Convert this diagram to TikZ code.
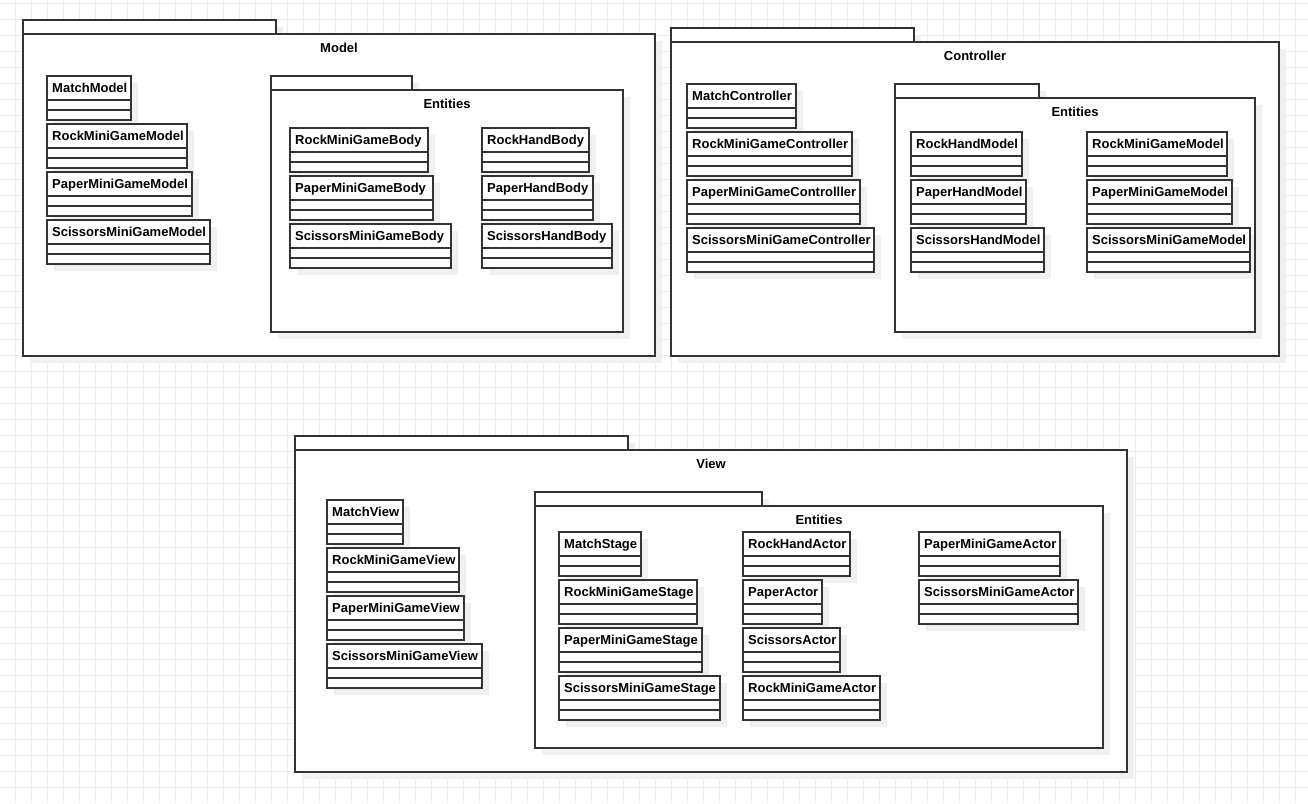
\documentclass[tikz,border=0pt]{standalone}
\usepackage{fontspec}
\setmainfont{Liberation Sans}
\usepackage{xcolor}
\usepackage{tikz}
\usetikzlibrary{positioning}
\definecolor{myline}{RGB}{51,51,51}
\definecolor{myshadow}{RGB}{240,240,240}
\definecolor{mygrid}{RGB}{236,236,236}
\pgfdeclarelayer{pkgback}
\pgfdeclarelayer{clsback}
\pgfsetlayers{pkgback,clsback,main}
\tikzset{
  gridline/.style={draw=mygrid, line width=0.8pt},
  boxline/.style={draw=myline, line width=1.3pt},
  boxshadow/.style={fill=myshadow},
  clsname/.style={anchor=north west, minimum height=24pt,
    inner xsep=5pt, inner ysep=0pt, text height=9.3pt, text depth=0pt,
    font=\bfseries\fontsize{13}{15}\selectfont},
  pkgtitle/.style={inner sep=0pt, text height=9.3pt, text depth=0pt,
    font=\bfseries\fontsize{13}{15}\selectfont}
}

% class box: name, x, y, width, label
\newcommand{\umlclass}[5]{%
  \begin{pgfonlayer}{clsback}
    \fill[boxshadow] (#2+7,#3+7) rectangle ++(#4,44);
  \end{pgfonlayer}
  \fill[white] (#2,#3) rectangle ++(#4,44);
  \node[clsname] (#1) at (#2,#3) {#5};
  \draw[boxline] (#2,#3) rectangle ++(#4,44);
  \draw[boxline] (#2,#3+24) -- ++(#4,0);
  \draw[boxline] (#2,#3+34) -- ++(#4,0);
}

% package: name, x1, tab top, tab right, x2, y2, title
\newcommand{\umlpackage}[7]{%
  \begin{pgfonlayer}{pkgback}
    \fill[boxshadow] (#2+7,#3+7) rectangle (#4+7,#3+21);
    \fill[boxshadow] (#2+7,#3+21) rectangle (#5+7,#6+7);
    \fill[white] (#2,#3) rectangle (#4,#3+14);
    \fill[white] (#2,#3+14) rectangle (#5,#6);
  \end{pgfonlayer}
  \draw[boxline] (#2,#3+14) -- (#2,#3) -- (#4,#3) -- (#4,#3+14);
  \draw[boxline] (#2,#3+14) rectangle (#5,#6);
  \node[pkgtitle] (#1) at ({(#2+#5)/2},#3+28) {#7};
}

\begin{document}
\begin{tikzpicture}[x=1pt, y=-1pt]
  \useasboundingbox (0,0) rectangle (1308,803);

  % Background grid
  \begin{pgfonlayer}{pkgback}
    \fill[white] (0,0) rectangle (1308,803);
    \foreach \gx in {1,...,81}
      \draw[gridline] (16*\gx-0.5,0) -- (16*\gx-0.5,803);
    \foreach \gy in {0,...,49}
      \draw[gridline] (0,16*\gy+3.7) -- (1308,16*\gy+3.7);
  \end{pgfonlayer}

  % Model package
  \umlpackage{model}{23}{20}{276}{655}{356}{Model}
  \umlclass{matchmodel}{47}{76}{84}{MatchModel}
  \umlclass{rockminigamemodel}{47}{124}{140}{RockMiniGameModel}
  \umlclass{paperminigamemodel}{47}{172}{145}{PaperMiniGameModel}
  \umlclass{scissorsminigamemodel}{47}{220}{163}{ScissorsMiniGameModel}

  \umlpackage{modelentities}{271}{76}{412}{623}{332}{Entities}
  \umlclass{rockminigamebody}{290}{128}{138}{RockMiniGameBody}
  \umlclass{paperminigamebody}{290}{176}{143}{PaperMiniGameBody}
  \umlclass{scissorsminigamebody}{290}{224}{161}{ScissorsMiniGameBody}
  \umlclass{rockhandbody}{482}{128}{107}{RockHandBody}
  \umlclass{paperhandbody}{482}{176}{111}{PaperHandBody}
  \umlclass{scissorshandbody}{482}{224}{130}{ScissorsHandBody}

  % Controller package
  \umlpackage{controller}{671}{28}{914}{1279}{356}{Controller}
  \umlclass{matchcontroller}{687}{84}{109}{MatchController}
  \umlclass{rockminigamecontroller}{687}{132}{165}{RockMiniGameController}
  \umlclass{paperminigamecontroller}{687}{180}{173}{PaperMiniGameControlller}
  \umlclass{scissorsminigamecontroller}{687}{228}{187}{ScissorsMiniGameController}

  \umlpackage{ctrlentities}{895}{84}{1039}{1255}{332}{Entities}
  \umlclass{rockhandmodel}{911}{132}{111}{RockHandModel}
  \umlclass{paperhandmodel}{911}{180}{115}{PaperHandModel}
  \umlclass{scissorshandmodel}{911}{228}{133}{ScissorsHandModel}
  \umlclass{ctrlrockminigamemodel}{1087}{132}{140}{RockMiniGameModel}
  \umlclass{ctrlpaperminigamemodel}{1087}{180}{145}{PaperMiniGameModel}
  \umlclass{ctrlscissorsminigamemodel}{1087}{228}{163}{ScissorsMiniGameModel}

  % View package
  \umlpackage{view}{295}{436}{628}{1127}{772}{View}
  \umlclass{matchview}{327}{500}{76}{MatchView}
  \umlclass{rockminigameview}{327}{548}{132}{RockMiniGameView}
  \umlclass{paperminigameview}{327}{596}{137}{PaperMiniGameView}
  \umlclass{scissorsminigameview}{327}{644}{155}{ScissorsMiniGameView}

  \umlpackage{viewentities}{535}{492}{762}{1103}{748}{Entities}
  \umlclass{matchstage}{559}{532}{82}{MatchStage}
  \umlclass{rockminigamestage}{559}{580}{138}{RockMiniGameStage}
  \umlclass{paperminigamestage}{559}{628}{143}{PaperMiniGameStage}
  \umlclass{scissorsminigamestage}{559}{676}{161}{ScissorsMiniGameStage}
  \umlclass{rockhandactor}{743}{532}{107}{RockHandActor}
  \umlclass{paperactor}{743}{580}{79}{PaperActor}
  \umlclass{scissorsactor}{743}{628}{97}{ScissorsActor}
  \umlclass{rockminigameactor}{743}{676}{137}{RockMiniGameActor}
  \umlclass{paperminigameactor}{919}{532}{141}{PaperMiniGameActor}
  \umlclass{scissorsminigameactor}{919}{580}{159}{ScissorsMiniGameActor}
\end{tikzpicture}
\end{document}
